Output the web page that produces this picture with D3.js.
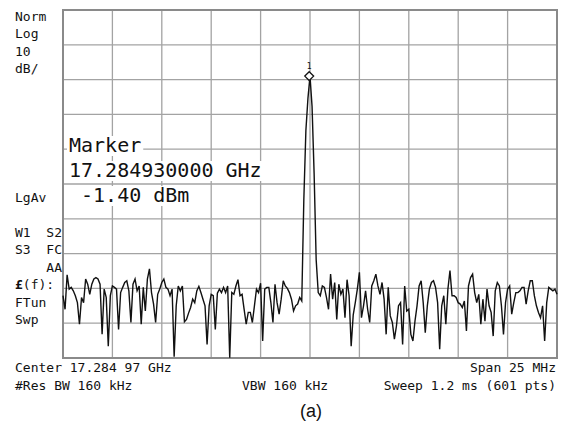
<!DOCTYPE html>
<html lang="en">
<head>
<meta charset="UTF-8">
<title>Spectrum trace (a)</title>
<script src="https://cdn.jsdelivr.net/npm/d3@7/dist/d3.min.js"></script>
<style>
  body { margin: 0; background: #fff; }
  svg text { font-family: "DejaVu Sans Mono", monospace; fill: #111; white-space: pre; }
</style>
</head>
<body>
<div id="chart"></div>
<script>
// instrument settings
const centerGHz = 17.28497;
const spanMHz = 25;
const refLevel = 17.6;     // dBm at top graticule
const dbPerDiv = 10;
const divisions = 10;
const markerGHz = 17.28493;
const markerDbm = -1.40;

// trace, 241 evenly spaced points over the span (dBm)
const traceDbm = [
  -64.5, -68.4, -58.5, -62.6, -62.1, -63.1, -64.5, -66.5, -72.7, -65.0,
  -66.5, -59.7, -61.2, -64.1, -61.2, -59.7, -59.3, -59.7, -61.2, -75.6,
  -62.6, -65.0, -79.0, -64.5, -61.7, -62.1, -62.6, -74.2, -63.6, -62.1,
  -60.7, -60.2, -63.1, -72.2, -61.2, -59.7, -63.1, -61.7, -72.7, -62.1,
  -68.9, -59.7, -56.8, -63.6, -66.9, -72.2, -64.1, -62.6, -60.7, -59.7,
  -62.1, -62.6, -64.5, -62.6, -82.0, -67.4, -61.7, -63.1, -61.7, -72.0,
  -71.3, -69.5, -67.9, -65.5, -66.5, -63.1, -61.8, -63.6, -65.5, -67.4,
  -78.5, -67.4, -64.1, -64.5, -74.2, -63.8, -62.6, -63.6, -62.1, -63.6,
  -61.7, -82.3, -63.6, -64.1, -61.7, -59.9, -64.5, -64.1, -68.4, -72.7,
  -69.3, -69.3, -72.2, -67.4, -62.6, -63.6, -60.9, -77.5, -62.6, -62.1,
  -62.1, -66.5, -72.2, -61.2, -66.5, -69.8, -65.5, -60.2, -61.7, -62.4,
  -63.6, -65.5, -68.9, -67.4, -66.9, -65.0, -66.0, -36.9, -17.0, -7.8,
  -1.4, -10.1, -29.4, -54.2, -63.6,
  -64.5, -61.7, -62.1, -65.0, -68.4, -58.3, -65.5, -60.7, -71.3, -61.2,
  -64.1, -62.6, -70.8, -59.9, -64.5, -79.0, -70.0, -66.5, -62.6, -57.8,
  -70.8, -67.4, -63.1, -68.4, -72.2, -61.7, -60.2, -58.3, -61.7, -64.1,
  -60.7, -65.5, -75.6, -62.1, -70.3, -72.2, -77.0, -73.2, -67.4, -66.5,
  -78.5, -61.7, -68.9, -68.4, -75.6, -77.5, -71.8, -67.4, -61.7, -60.2,
  -66.5, -75.1, -67.4, -62.6, -60.7,
  -60.2, -62.1, -66.5, -79.9, -67.4, -64.5, -72.7, -62.6, -57.3, -64.5,
  -64.5, -65.0, -66.5, -66.9, -67.9, -66.0, -74.6, -61.7, -59.3, -58.3,
  -63.6, -66.5, -64.1, -72.7, -65.5, -71.8, -62.6, -67.4, -69.3, -76.1,
  -63.1, -60.7, -61.7, -67.4, -75.6, -66.5, -62.6, -61.7, -69.8, -66.5,
  -63.6, -63.6, -63.1, -62.1, -62.1, -66.9, -63.1, -60.2, -60.2, -64.5,
  -67.4, -69.3, -70.8, -67.4, -77.5, -66.5, -62.1, -62.6, -63.1, -62.6,
  -64.1
];

// screen annotations
const scaleLabels = ["Norm", "Log", "10", "dB/"];
const avgLabel = "LgAv";
const statusLabels = ["W1  S2", "S3  FC", "    AA", "(f):", "FTun", "Swp"];
const markerLines = ["Marker", "17.284930000 GHz", " -1.40 dBm"];
const footerTop = ["Center 17.284 97 GHz", "Span 25 MHz"];
const footerBottom = ["#Res BW 160 kHz", "VBW 160 kHz", "Sweep 1.2 ms (601 pts)"];
const caption = "(a)";

const W = 564, H = 430;
const plot = { left: 63, right: 557, top: 10, bottom: 358 };

const svg = d3.select("#chart").append("svg")
  .attr("width", W).attr("height", H);

const startMHz = centerGHz * 1000 - spanMHz / 2;
const x = d3.scaleLinear()
  .domain([startMHz, startMHz + spanMHz])
  .range([plot.left, plot.right]);
const y = d3.scaleLinear()
  .domain([refLevel - dbPerDiv * divisions, refLevel])
  .range([plot.bottom, plot.top]);

// graticule
const grid = svg.append("g");
const xDivs = d3.range(1, divisions).map(i => startMHz + i * spanMHz / divisions);
const yDivs = d3.range(1, divisions).map(i => refLevel - i * dbPerDiv);
grid.selectAll("line.v").data(xDivs).join("line")
  .attr("x1", d => x(d)).attr("x2", d => x(d))
  .attr("y1", plot.top).attr("y2", plot.bottom)
  .attr("stroke", "#a3a3a3").attr("stroke-width", 1.3);
grid.selectAll("line.h").data(yDivs).join("line")
  .attr("x1", plot.left).attr("x2", plot.right)
  .attr("y1", d => y(d)).attr("y2", d => y(d))
  .attr("stroke", "#a3a3a3").attr("stroke-width", 1.3);
grid.append("rect")
  .attr("x", plot.left).attr("y", plot.top)
  .attr("width", plot.right - plot.left).attr("height", plot.bottom - plot.top)
  .attr("fill", "none").attr("stroke", "#8a8a8a").attr("stroke-width", 2);

// trace
const step = spanMHz / (traceDbm.length - 1);
const line = d3.line()
  .x((d, i) => x(startMHz + i * step))
  .y(d => y(d));
svg.append("path")
  .datum(traceDbm)
  .attr("d", line)
  .attr("fill", "none")
  .attr("stroke", "#111")
  .attr("stroke-width", 1.4)
  .attr("stroke-linejoin", "miter");

// marker diamond
const mx = x(markerGHz * 1000), my = y(markerDbm);
svg.append("path")
  .attr("d", d3.symbol(d3.symbolDiamond2, 50)())
  .attr("transform", `translate(${mx},${my})`)
  .attr("fill", "#fff").attr("stroke", "#111").attr("stroke-width", 1.3);
svg.append("text")
  .attr("x", mx).attr("y", my - 7)
  .attr("text-anchor", "middle")
  .style("font-size", "8px")
  .text("1");

// marker readout with white boxes behind
const mk = svg.append("g");
markerLines.forEach((t, i) => {
  const tx = mk.append("text")
    .attr("x", 69).attr("y", 152 + i * 25)
    .style("font-size", "20px")
    .text(t);
  const b = tx.node().getBBox();
  mk.insert("rect", "text")
    .attr("x", b.x - 2).attr("y", b.y + 3)
    .attr("width", b.width + 4).attr("height", b.height - 4)
    .attr("fill", "#fff");
});

// left annotations
const small = "13px";
svg.selectAll("text.scale").data(scaleLabels).join("text")
  .attr("class", "scale")
  .attr("x", 15).attr("y", (d, i) => 21 + i * 17.3)
  .style("font-size", small).text(d => d);
svg.append("text").attr("x", 15).attr("y", 202)
  .style("font-size", small).text(avgLabel);
svg.selectAll("text.stat").data(statusLabels).join("text")
  .attr("class", "stat")
  .attr("x", 15).attr("y", (d, i) => 237 + i * 17.4)
  .style("font-size", small)
  .each(function (d, i) {
    const t = d3.select(this);
    if (i === 3) {
      t.append("tspan").style("font-weight", "bold").text("\u00a3");
      t.append("tspan").text(d);
    } else {
      t.text(d);
    }
  });

// footer
svg.append("text").attr("x", 15).attr("y", 372).style("font-size", small).text(footerTop[0]);
svg.append("text").attr("x", 556).attr("y", 372).attr("text-anchor", "end").style("font-size", small).text(footerTop[1]);
svg.append("text").attr("x", 15).attr("y", 390).style("font-size", small).text(footerBottom[0]);
svg.append("text").attr("x", 242).attr("y", 390).style("font-size", small).text(footerBottom[1]);
svg.append("text").attr("x", 556).attr("y", 390).attr("text-anchor", "end").style("font-size", small).text(footerBottom[2]);

svg.append("text")
  .attr("x", 311).attr("y", 417)
  .attr("text-anchor", "middle")
  .style("font-family", "'Liberation Sans', Arial, sans-serif")
  .style("font-size", "18px")
  .text(caption);
</script>
</body>
</html>
